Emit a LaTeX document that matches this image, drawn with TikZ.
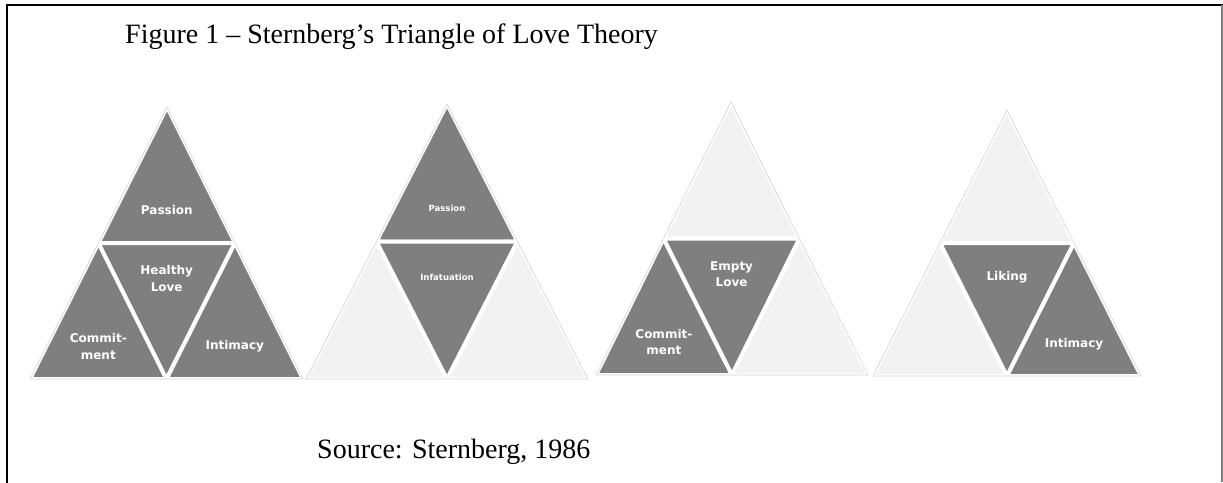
\documentclass[tikz,border=0pt]{standalone}
\usepackage{fontspec}
\setmainfont{Liberation Serif}
\newfontfamily\smartfont{DejaVu Sans}
\usetikzlibrary{calc}

\definecolor{darkpart}{HTML}{7F7F7F}
\definecolor{lightpart}{HTML}{F2F2F2}
\definecolor{rimgray}{HTML}{D2D2D2}

% #1 name, #2 apex, #3 base left, #4 base right, #5-#8 fills (top, left, centre, right)
\newcommand{\lovetri}[8]{%
  \coordinate (#1-a) at #2;
  \coordinate (#1-l) at #3;
  \coordinate (#1-r) at #4;
  \coordinate (#1-al) at ($(#1-a)!0.5!(#1-l)$);
  \coordinate (#1-ar) at ($(#1-a)!0.5!(#1-r)$);
  \coordinate (#1-lr) at ($(#1-l)!0.5!(#1-r)$);
  \coordinate (#1-tm) at ($(#1-al)!0.5!(#1-ar)$);
  \coordinate (#1-lm) at ($(#1-l)!0.5!(#1-lr)$);
  \coordinate (#1-rm) at ($(#1-lr)!0.5!(#1-r)$);
  \coordinate (#1-top) at ($(#1-a)!0.76!(#1-tm)$);
  \coordinate (#1-cen) at ($(#1-tm)!0.26!(#1-lr)$);
  \coordinate (#1-left) at ($(#1-al)!0.76!(#1-lm)$);
  \coordinate (#1-right) at ($(#1-ar)!0.76!(#1-rm)$);
  \filldraw[part=#5] (#1-a) -- (#1-al) -- (#1-ar) -- cycle;
  \filldraw[part=#6] (#1-al) -- (#1-l) -- (#1-lr) -- cycle;
  \filldraw[part=#7] (#1-al) -- (#1-ar) -- (#1-lr) -- cycle;
  \filldraw[part=#8] (#1-ar) -- (#1-lr) -- (#1-r) -- cycle;
  \draw[rim] (#1-a) -- (#1-l) -- (#1-r) -- cycle;
}

\begin{document}
\begin{tikzpicture}[
    x=1pt, y=-1pt,
    part/.style={
        fill=#1,
        draw=white,
        line width=4pt,
        line join=round
    },
    rim/.style={
        draw=rimgray,
        line width=0.6pt,
        line join=round
    },
    lab/.style={
        text=white,
        align=center,
        inner sep=0pt,
        font=\smartfont\bfseries\fontsize{12}{16.5}\selectfont
    },
    smalllab/.style={
        lab,
        font=\smartfont\bfseries\fontsize{8.5}{11}\selectfont
    },
    caption/.style={
        anchor=base west,
        inner sep=0pt,
        font=\fontsize{28}{32}\selectfont
    }
]
\useasboundingbox (0,0) rectangle (1223,482);

% Frame
\draw[line width=1.6pt, line cap=rect] (7,482) -- (7,5) -- (1222,5);
\draw[gray, line width=1.2pt] (1222,5) -- (1222,482);

% Title and source
\node[caption] (title) at (125,43) {Figure 1 -- Sternberg’s Triangle of Love Theory};
\node[caption] (source) at (317,458) {Source: Sternberg, 1986};

% Triangles
\lovetri{healthy}{(167,107)}{(30,379)}{(303,379)}{darkpart}{darkpart}{darkpart}{darkpart}
\lovetri{infat}{(447,104)}{(306,379)}{(588,379)}{darkpart}{lightpart}{darkpart}{lightpart}
\lovetri{empty}{(731,102)}{(596,375)}{(868,375)}{lightpart}{darkpart}{darkpart}{lightpart}
\lovetri{liking}{(1007,110)}{(873,376)}{(1141,376)}{lightpart}{lightpart}{darkpart}{darkpart}

% Labels
\node[lab] (healthy-pas) at (healthy-top) {Passion};
\node[lab] (healthy-love) at (healthy-cen) {Healthy\\Love};
\node[lab] (healthy-com) at (healthy-left) {Commit-\\ment};
\node[lab] (healthy-int) at (healthy-right) {Intimacy};

\node[smalllab] (infat-pas) at (infat-top) {Passion};
\node[smalllab] (infat-love) at (infat-cen) {Infatuation};

\node[lab] (empty-love) at (empty-cen) {Empty\\Love};
\node[lab] (empty-com) at (empty-left) {Commit-\\ment};

\node[lab] (liking-love) at (liking-cen) {Liking};
\node[lab] (liking-int) at (liking-right) {Intimacy};

\end{tikzpicture}
\end{document}
